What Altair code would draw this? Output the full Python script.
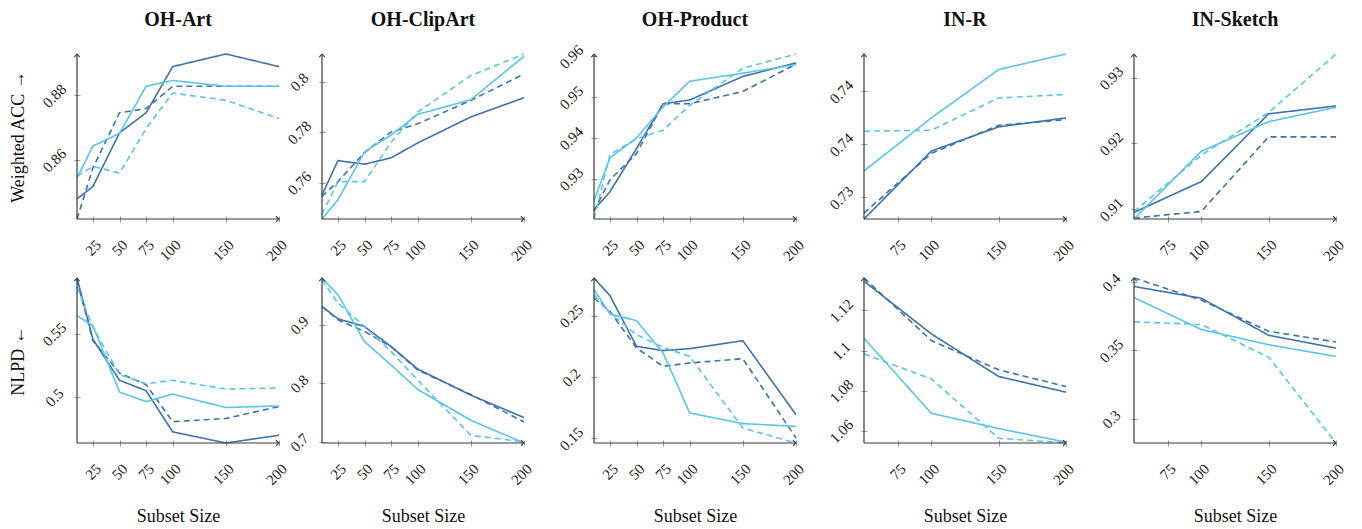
import altair as alt
import pandas as pd

# ---------------- data ----------------
OH_SIZES = [10, 25, 50, 75, 100, 150, 200]
IN_SIZES = [50, 100, 150, 200]
OH_XTICKS = [25, 50, 75, 100, 150, 200]
IN_XTICKS = [75, 100, 150, 200]

# series: A = dark solid, B = dark dashed, C = light solid, D = light dashed
SERIES = ["A", "B", "C", "D"]
COLORS = ["#3f72aa", "#3f72aa", "#5bc4ec", "#5bc4ec"]
DASHES = [[1, 0], [6, 4], [1, 0], [6, 4]]

# OH-Art, Weighted ACC
ART_ACC_A = [0.8479, 0.8518, 0.8684, 0.8746, 0.8889, 0.8928, 0.8889]
ART_ACC_B = [0.8417, 0.8575, 0.8746, 0.8759, 0.8828, 0.8828, 0.8828]
ART_ACC_C = [0.8544, 0.8643, 0.8682, 0.8828, 0.8846, 0.8828, 0.8828]
ART_ACC_D = [0.8549, 0.8580, 0.8559, 0.8697, 0.8807, 0.8785, 0.8728]
# OH-ClipArt, Weighted ACC
CLIP_ACC_A = [0.7551, 0.7687, 0.7673, 0.7698, 0.7757, 0.7860, 0.7936]
CLIP_ACC_B = [0.7545, 0.7604, 0.7719, 0.7800, 0.7833, 0.7925, 0.8030]
CLIP_ACC_C = [0.7456, 0.7532, 0.7722, 0.7788, 0.7870, 0.7928, 0.8100]
CLIP_ACC_D = [0.7475, 0.7604, 0.7604, 0.7760, 0.7879, 0.8024, 0.8109]
# OH-Product, Weighted ACC
PROD_ACC_A = [0.9224, 0.9268, 0.9374, 0.9484, 0.9493, 0.9551, 0.9584]
PROD_ACC_B = [0.9220, 0.9297, 0.9362, 0.9484, 0.9484, 0.9514, 0.9581]
PROD_ACC_C = [0.9246, 0.9351, 0.9400, 0.9476, 0.9539, 0.9559, 0.9580]
PROD_ACC_D = [0.9201, 0.9359, 0.9398, 0.9419, 0.9480, 0.9571, 0.9606]
# IN-R, Weighted ACC
INR_ACC_A = [0.72797, 0.73438, 0.73666, 0.73750]
INR_ACC_B = [0.72853, 0.73416, 0.73681, 0.73734]
INR_ACC_C = [0.73250, 0.73750, 0.74206, 0.74353]
INR_ACC_D = [0.73625, 0.73634, 0.73938, 0.73972]
# IN-Sketch, Weighted ACC
INS_ACC_A = [0.90950, 0.91420, 0.92450, 0.92570]
INS_ACC_B = [0.90864, 0.90965, 0.92100, 0.92100]
INS_ACC_C = [0.90850, 0.91880, 0.92330, 0.92550]
INS_ACC_D = [0.90965, 0.91820, 0.92470, 0.93360]

# OH-Art, NLPD
ART_NLPD_A = [0.5941, 0.5457, 0.5133, 0.5051, 0.4726, 0.4638, 0.4699]
ART_NLPD_B = [0.5923, 0.5444, 0.5191, 0.5098, 0.4806, 0.4832, 0.4926]
ART_NLPD_C = [0.5644, 0.5564, 0.5040, 0.4965, 0.5024, 0.4918, 0.4931]
ART_NLPD_D = [0.5870, 0.5550, 0.5178, 0.5106, 0.5133, 0.5064, 0.5072]
# OH-ClipArt, NLPD
CLIP_NLPD_A = [0.9314, 0.9103, 0.8971, 0.8629, 0.8246, 0.7800, 0.7417]
CLIP_NLPD_B = [0.9314, 0.9086, 0.8886, 0.8629, 0.8229, 0.7811, 0.7343]
CLIP_NLPD_C = [0.9800, 0.9514, 0.8714, 0.8314, 0.7897, 0.7371, 0.6983]
CLIP_NLPD_D = [0.9771, 0.9371, 0.8971, 0.8543, 0.8057, 0.7114, 0.7000]
# OH-Product, NLPD
PROD_NLPD_A = [0.2807, 0.2663, 0.2250, 0.2215, 0.2231, 0.2296, 0.1693]
PROD_NLPD_B = [0.2644, 0.2535, 0.2236, 0.2087, 0.2114, 0.2149, 0.1503]
PROD_NLPD_C = [0.2712, 0.2514, 0.2459, 0.2196, 0.1707, 0.1620, 0.1598]
PROD_NLPD_D = [0.2671, 0.2522, 0.2345, 0.2242, 0.2168, 0.1584, 0.1462]
# IN-R, NLPD
INR_NLPD_A = [1.1345, 1.1083, 1.0871, 1.0793]
INR_NLPD_B = [1.1361, 1.1050, 1.0904, 1.0821]
INR_NLPD_C = [1.1061, 1.0688, 1.0612, 1.0544]
INR_NLPD_D = [1.0983, 1.0859, 1.0564, 1.0540]
# IN-Sketch, NLPD
INS_NLPD_A = [0.3968, 0.3882, 0.3611, 0.3517]
INS_NLPD_B = [0.4030, 0.3869, 0.3640, 0.3562]
INS_NLPD_C = [0.3887, 0.3653, 0.3542, 0.3456]
INS_NLPD_D = [0.3709, 0.3690, 0.3451, 0.2823]

TITLES = ["OH-Art", "OH-ClipArt", "OH-Product", "IN-R", "IN-Sketch"]
ROW_TITLES = ["Weighted ACC \u2192", "NLPD \u2190"]
X_TITLE = "Subset Size"

ACC_YTICKS = [[0.86, 0.88], [0.76, 0.78, 0.8], [0.93, 0.94, 0.95, 0.96],
              [0.73, 0.735, 0.74], [0.91, 0.92, 0.93]]
ACC_YLABELS = [["0.86", "0.88"], ["0.76", "0.78", "0.8"], ["0.93", "0.94", "0.95", "0.96"],
               ["0.73", "0.74", "0.74"], ["0.91", "0.92", "0.93"]]
NLPD_YTICKS = [[0.5, 0.55], [0.7, 0.8, 0.9], [0.15, 0.2, 0.25],
               [1.06, 1.08, 1.1, 1.12], [0.3, 0.35, 0.4]]
NLPD_YLABELS = [["0.5", "0.55"], ["0.7", "0.8", "0.9"], ["0.15", "0.2", "0.25"],
                ["1.06", "1.08", "1.1", "1.12"], ["0.3", "0.35", "0.4"]]

ACC_DATA = [
    (OH_SIZES, [ART_ACC_A, ART_ACC_B, ART_ACC_C, ART_ACC_D]),
    (OH_SIZES, [CLIP_ACC_A, CLIP_ACC_B, CLIP_ACC_C, CLIP_ACC_D]),
    (OH_SIZES, [PROD_ACC_A, PROD_ACC_B, PROD_ACC_C, PROD_ACC_D]),
    (IN_SIZES, [INR_ACC_A, INR_ACC_B, INR_ACC_C, INR_ACC_D]),
    (IN_SIZES, [INS_ACC_A, INS_ACC_B, INS_ACC_C, INS_ACC_D]),
]
NLPD_DATA = [
    (OH_SIZES, [ART_NLPD_A, ART_NLPD_B, ART_NLPD_C, ART_NLPD_D]),
    (OH_SIZES, [CLIP_NLPD_A, CLIP_NLPD_B, CLIP_NLPD_C, CLIP_NLPD_D]),
    (OH_SIZES, [PROD_NLPD_A, PROD_NLPD_B, PROD_NLPD_C, PROD_NLPD_D]),
    (IN_SIZES, [INR_NLPD_A, INR_NLPD_B, INR_NLPD_C, INR_NLPD_D]),
    (IN_SIZES, [INS_NLPD_A, INS_NLPD_B, INS_NLPD_C, INS_NLPD_D]),
]

# ---------------- layout / style ----------------
W, H = 202, 165
COL_GAPS = [43, 70, 68, 68]
ROW_GAP = 59
FONT = "Liberation Serif"
AXIS_COLOR = "#3a3a3a"
TICK_COLOR = "#9a9a9a"
TICK_FONT_SIZE = 15


def label_expr(vals, labels):
    expr = "''"
    for v, lab in reversed(list(zip(vals, labels))):
        expr = f"abs(datum.value - {v}) < 1e-6 ? '{lab}' : ({expr})"
    return expr


def panel(sizes, series_vals, yticks, ylabels, title=None, ytitle=None, xtitle=None):
    rows = []
    for key, vals in zip(SERIES, series_vals):
        for xv, yv in zip(sizes, vals):
            rows.append({"x": xv, "y": yv, "series": key})
    df = pd.DataFrame(rows)
    ymin = min(min(v) for v in series_vals)
    ymax = max(max(v) for v in series_vals)
    xticks = OH_XTICKS if sizes[0] < 25 else IN_XTICKS

    x_axis = alt.Axis(values=xticks, format="d", labelAngle=315, labelAlign="right",
                      labelBaseline="middle", labelPadding=20, labelOffset=5,
                      labelOverlap=False, labelFlush=False, domain=False, grid=False,
                      tickColor=TICK_COLOR, tickSize=6, offset=-3,
                      labelFont=FONT, labelFontSize=TICK_FONT_SIZE, labelColor="#222",
                      title=xtitle, titleFont=FONT, titleFontSize=18, titleFontWeight="normal",
                      titleColor="#111", titleY=81, titleBaseline="alphabetic")
    y_axis = alt.Axis(values=yticks, labelExpr=label_expr(yticks, ylabels), labelAngle=315,
                      labelAlign="center", labelBaseline="middle", labelPadding=20,
                      labelOverlap=False, labelFlush=False, domain=False, grid=False,
                      tickColor=TICK_COLOR, tickSize=6, offset=-3,
                      labelFont=FONT, labelFontSize=TICK_FONT_SIZE, labelColor="#222",
                      title=ytitle, titleFont=FONT, titleFontSize=18, titleFontWeight="normal",
                      titleColor="#111", titleAngle=270, titleX=-57, titleY=H / 2,
                      titleAlign="center", titleBaseline="alphabetic")

    lines = alt.Chart(df).mark_line(strokeWidth=1.6).encode(
        x=alt.X("x:Q", scale=alt.Scale(domain=[sizes[0], 200], nice=False, zero=False), axis=x_axis),
        y=alt.Y("y:Q", scale=alt.Scale(domain=[ymin, ymax], nice=False, zero=False), axis=y_axis),
        color=alt.Color("series:N", scale=alt.Scale(domain=SERIES, range=COLORS), legend=None),
        strokeDash=alt.StrokeDash("series:N", scale=alt.Scale(domain=SERIES, range=DASHES), legend=None),
    )
    one = pd.DataFrame({"k": [0]})
    yline = alt.Chart(one).mark_rule(color=AXIS_COLOR, strokeWidth=1.2).encode(
        x=alt.value(0), y=alt.value(0), y2=alt.value(H))
    xline = alt.Chart(one).mark_rule(color=AXIS_COLOR, strokeWidth=1.2).encode(
        x=alt.value(0), x2=alt.value(W), y=alt.value(H))
    up_arrow = alt.Chart(one).mark_point(shape="M -1 1.1 L 0 0 L 1 1.1", size=30, filled=False,
                                         stroke=AXIS_COLOR, strokeWidth=1.1, opacity=1).encode(
        x=alt.value(0), y=alt.value(0))
    right_arrow = alt.Chart(one).mark_point(shape="M -1.1 -1 L 0 0 L -1.1 1", size=30, filled=False,
                                            stroke=AXIS_COLOR, strokeWidth=1.1, opacity=1).encode(
        x=alt.value(W), y=alt.value(H))
    layers = [lines, yline, xline, up_arrow, right_arrow]
    if title:
        layers.append(alt.Chart(one).mark_text(font=FONT, fontSize=20, fontWeight="bold", color="#111",
                                               align="center", baseline="alphabetic").encode(
            x=alt.value(W / 2), y=alt.value(-28), text=alt.value(title)))
    return alt.layer(*layers).properties(width=W, height=H)


def spacer(w, h):
    return alt.Chart(pd.DataFrame({"k": [0]})).mark_point(opacity=0).encode(
        x=alt.value(0), y=alt.value(0)).properties(width=w, height=h)


cells = []
for r, (data, yt, yl) in enumerate([(ACC_DATA, ACC_YTICKS, ACC_YLABELS),
                                   (NLPD_DATA, NLPD_YTICKS, NLPD_YLABELS)]):
    if r == 1:
        cells += [spacer(1, ROW_GAP)] + [spacer(1, 1) for _ in range(8)]
    for i in range(5):
        sizes, vals = data[i]
        cells.append(panel(sizes, vals, yt[i], yl[i],
                           title=TITLES[i] if r == 0 else None,
                           ytitle=ROW_TITLES[r] if i == 0 else None,
                           xtitle=X_TITLE if r == 1 else None))
        if i < 4:
            cells.append(spacer(COL_GAPS[i], 1))

chart = alt.concat(*cells, columns=9, spacing=0).properties(
    align="each", bounds="flush", padding={"top": 2, "left": 1, "right": 0, "bottom": 0}
).configure_view(strokeWidth=0)

chart.save("out.html", embed_options={"renderer": "svg", "actions": False})
